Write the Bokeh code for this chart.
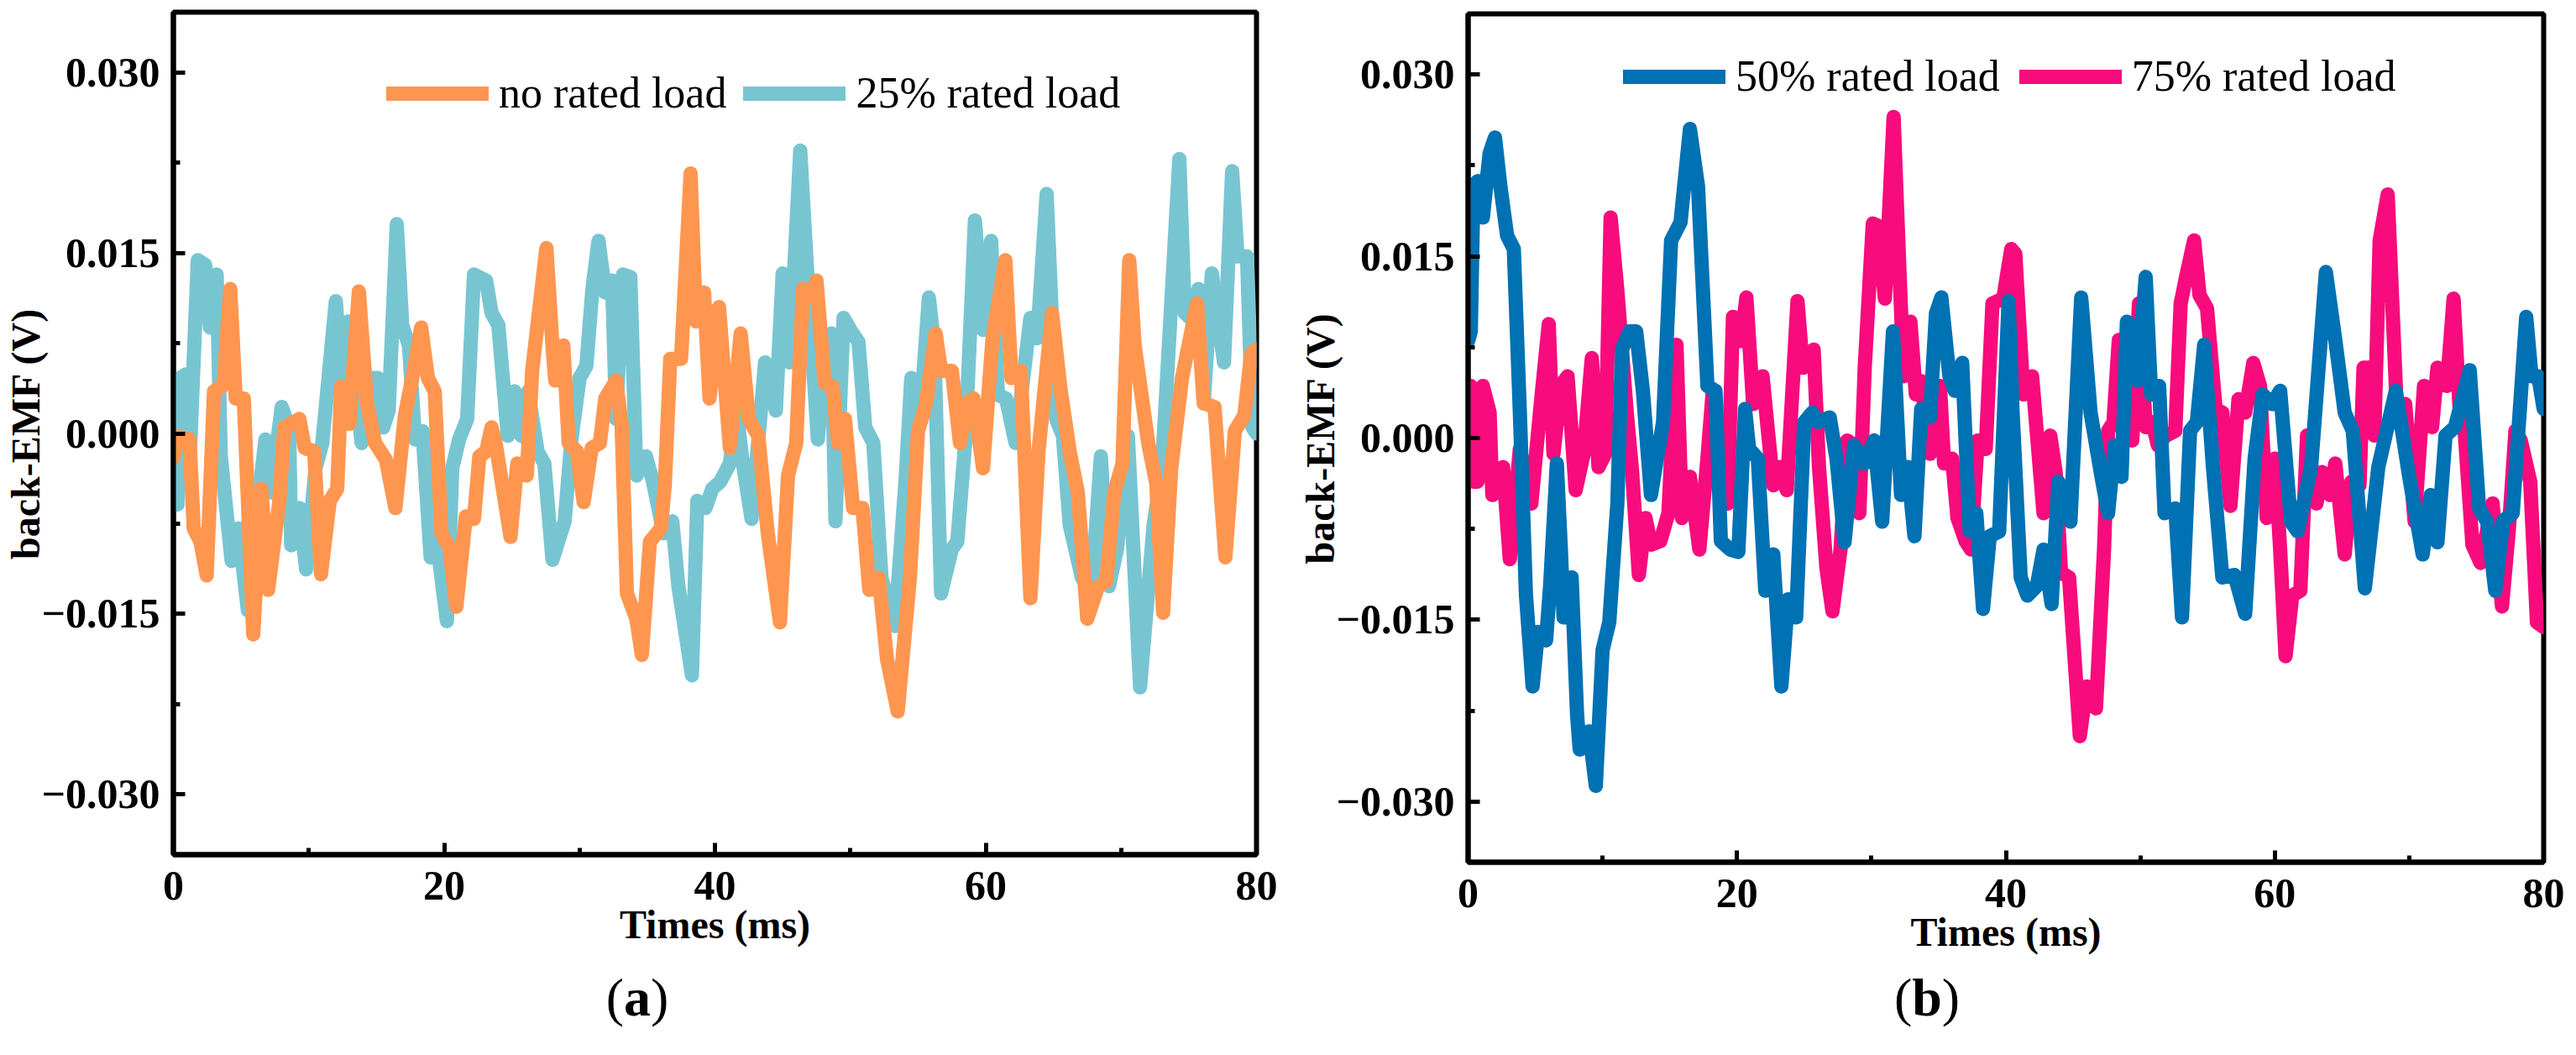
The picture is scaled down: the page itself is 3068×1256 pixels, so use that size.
# back-EMF under different loads, two panels side by side

from bokeh.plotting import figure
from bokeh.models import FixedTicker, Legend, LegendItem, Div
from bokeh.layouts import row, column
from bokeh.embed import file_html
from bokeh.resources import INLINE

# (a) no rated load
t_none = [0.0, 0.4, 1.2, 1.5, 2.0, 2.46, 3.0, 3.7, 4.2, 4.6,
          5.2, 5.9, 6.5, 7.0, 7.8, 8.2, 9.3, 9.7, 10.4, 10.9,
          11.55, 12.1, 12.4, 13.0, 13.7, 14.3, 14.9, 15.7, 16.4, 17.1,
          17.75, 18.3, 18.8, 19.3, 19.8, 20.4, 20.9, 21.6, 22.2, 22.6,
          23.1, 23.5, 23.8, 24.9, 25.4, 26.1, 26.5, 27.55, 28.0, 28.2,
          28.8, 29.2, 29.8, 30.3, 30.9, 31.5, 31.9, 32.7, 33.1, 33.5,
          34.2, 34.6, 35.2, 36.0, 36.3, 36.7, 37.5, 38.2, 38.6, 39.2,
          39.6, 40.3, 41.1, 41.9, 42.5, 43.2, 43.9, 44.8, 45.4, 46.0,
          46.5, 47.1, 47.5, 48.1, 48.7, 49.1, 49.6, 50.2, 50.9, 51.4,
          52.1, 52.7, 53.5, 54.4, 55.0, 55.6, 56.3, 56.7, 57.5, 58.1,
          58.6, 59.1, 59.8, 60.5, 61.45, 61.9, 62.6, 63.3, 63.9, 64.9,
          65.5, 66.2, 66.8, 67.5, 68.3, 68.9, 69.5, 70.1, 70.6, 71.0,
          72.0, 72.6, 73.1, 73.7, 74.5, 75.6, 76.1, 76.9, 77.7, 78.4,
          79.1, 79.6, 80.0]
v_none = [-0.0020, -0.0003, -0.0005, -0.0079, -0.0090, -0.0118, 0.0035, 0.0040, 0.0120, 0.0029,
          0.0029, -0.0167, -0.0046, -0.0130, -0.0059, 0.0005, 0.0012, -0.0012, -0.0015, -0.0117,
          -0.0056, -0.0046, 0.0039, 0.0008, 0.0118, 0.0025, -0.0008, -0.0022, -0.0062, 0.0015,
          0.0052, 0.0088, 0.0046, 0.0035, -0.0083, -0.0095, -0.0144, -0.0069, -0.0071, -0.0019,
          -0.0015, 0.0005, -0.0008, -0.0086, -0.0025, -0.0035, 0.0052, 0.0154, 0.0073, 0.0044,
          0.0073, -0.0008, -0.0015, -0.0057, -0.0012, -0.0008, 0.0029, 0.0044, 0.0008, -0.0133,
          -0.0154, -0.0184, -0.0090, -0.0079, -0.0042, 0.0062, 0.0062, 0.0216, 0.0093, 0.0117,
          0.0029, 0.0105, -0.0012, 0.0083, 0.0012, -0.0002, -0.0083, -0.0157, -0.0035, -0.0008,
          0.0120, 0.0113, 0.0127, 0.0042, 0.0039, -0.0008, 0.0012, -0.0062, -0.0062, -0.0130,
          -0.0120, -0.0187, -0.0231, -0.0120, 0.0002, 0.0025, 0.0083, 0.0052, 0.0052, -0.0008,
          0.0025, 0.0029, -0.0029, 0.0079, 0.0144, 0.0046, 0.0052, -0.0137, -0.0015, 0.0100,
          0.0039, -0.0015, -0.0049, -0.0154, -0.0127, -0.0123, -0.0049, -0.0025, 0.0144, 0.0073,
          -0.0008, -0.0042, -0.0149, -0.0029, 0.0046, 0.0108, 0.0025, 0.0022, -0.0103, 0.0002,
          0.0015, 0.0066, 0.0070]

# (a) 25% rated load
t_25 = [0.0, 0.3, 0.5, 0.9, 1.2, 1.8, 2.35, 2.7, 3.2, 3.5,
        4.3, 4.8, 5.5, 6.2, 6.8, 7.2, 8.0, 8.55, 8.7, 9.3,
        9.8, 10.5, 11.0, 12.0, 12.5, 12.9, 13.3, 13.9, 14.4, 15.1,
        15.5, 15.9, 16.5, 16.9, 17.4, 17.85, 18.4, 19.0, 19.5, 20.2,
        20.6, 21.1, 21.7, 22.2, 23.1, 23.5, 24.0, 24.7, 25.2, 25.7,
        26.2, 26.9, 27.4, 28.0, 28.9, 29.4, 30.0, 30.5, 30.95, 31.4,
        31.9, 32.4, 32.7, 33.2, 33.75, 34.2, 34.9, 35.4, 36.2, 36.85,
        37.3, 38.3, 38.7, 39.3, 39.8, 40.4, 41.1, 41.6, 42.0, 42.7,
        43.7, 44.5, 45.0, 45.5, 46.3, 46.9, 47.6, 48.2, 48.6, 48.9,
        49.5, 50.0, 50.6, 51.1, 51.7, 52.3, 53.3, 54.1, 54.5, 55.2,
        55.8, 56.2, 56.7, 57.5, 57.9, 58.5, 59.2, 59.8, 60.4, 60.9,
        61.5, 62.2, 63.3, 63.8, 64.5, 65.2, 65.7, 66.2, 67.1, 67.85,
        68.5, 69.1, 69.7, 70.5, 71.4, 72.4, 73.0, 74.3, 74.7, 75.1,
        75.7, 76.1, 76.7, 77.6, 78.2, 78.6, 79.3, 79.7, 80.0]
v_25 = [-0.0060, -0.0059, 0.0046, 0.0049, -0.0022, 0.0144, 0.0140, 0.0088, 0.0132, -0.0019,
        -0.0106, -0.0079, -0.0147, -0.0062, -0.0005, -0.0049, 0.0022, 0.0005, -0.0093, -0.0062,
        -0.0113, -0.0029, -0.0008, 0.0110, 0.0025, 0.0093, 0.0056, -0.0008, 0.0046, 0.0046,
        0.0005, 0.0019, 0.0174, 0.0090, 0.0073, -0.0005, 0.0002, -0.0103, -0.0093, -0.0156,
        -0.0029, -0.0005, 0.0012, 0.0132, 0.0127, 0.0100, 0.0090, -0.0002, 0.0035, -0.0002,
        0.0035, -0.0015, -0.0025, -0.0105, -0.0073, -0.0005, 0.0046, 0.0056, 0.0120, 0.0160,
        0.0117, 0.0127, 0.0012, 0.0132, 0.0130, -0.0035, -0.0019, -0.0039, -0.0083, -0.0073,
        -0.0127, -0.0201, -0.0056, -0.0062, -0.0046, -0.0040, -0.0025, 0.0019, -0.0020, -0.0071,
        0.0059, 0.0019, 0.0133, 0.0059, 0.0235, 0.0117, -0.0005, 0.0079, 0.0083, -0.0073,
        0.0096, 0.0086, 0.0076, 0.0005, -0.0008, -0.0120, -0.0160, -0.0035, 0.0046, 0.0019,
        0.0113, 0.0073, -0.0133, -0.0096, -0.0090, -0.0005, 0.0177, 0.0086, 0.0160, 0.0032,
        0.0029, -0.0008, 0.0096, 0.0079, 0.0199, 0.0012, -0.0002, -0.0076, -0.0120, -0.0127,
        -0.0019, -0.0127, -0.0096, -0.0002, -0.0211, -0.0076, -0.0032, 0.0228, 0.0100, 0.0096,
        0.0120, 0.0025, 0.0133, 0.0059, 0.0218, 0.0147, 0.0147, 0.0005, 0.0000]

# (b) 50% rated load
t_50 = [0.0, 0.2, 0.4, 0.7, 1.1, 1.6, 2.0, 2.4, 2.9, 3.4,
        3.85, 4.3, 4.8, 5.2, 5.8, 6.1, 6.6, 6.9, 7.1, 7.7,
        8.1, 8.3, 9.0, 9.5, 10.0, 10.5, 11.1, 11.45, 12.0, 12.5,
        13.0, 13.6, 14.5, 15.1, 15.8, 16.5, 17.1, 17.8, 18.4, 18.8,
        19.5, 20.1, 20.6, 20.9, 21.55, 22.1, 22.7, 23.3, 23.8, 24.4,
        25.0, 25.6, 26.0, 26.9, 27.4, 28.0, 28.7, 29.5, 30.2, 30.8,
        31.6, 32.2, 32.7, 33.2, 33.7, 34.35, 34.8, 35.2, 35.8, 36.2,
        36.75, 37.3, 37.8, 38.3, 38.8, 39.5, 40.2, 40.5, 41.1, 41.6,
        42.3, 42.8, 43.4, 43.9, 44.8, 45.6, 46.3, 47.05, 47.6, 48.1,
        48.6, 49.0, 49.45, 49.8, 50.4, 50.8, 51.4, 51.8, 52.6, 53.1,
        53.7, 54.2, 54.75, 55.4, 56.1, 57.0, 57.8, 58.5, 59.1, 59.8,
        60.4, 61.2, 61.7, 62.7, 63.8, 64.5, 65.2, 65.8, 66.7, 67.7,
        69.0, 70.0, 71.0, 71.6, 72.1, 72.7, 73.4, 74.5, 75.2, 75.8,
        76.4, 77.0, 77.7, 78.7, 79.1, 79.6, 80.0]
v_50 = [0.0080, 0.0088, 0.0208, 0.0212, 0.0182, 0.0235, 0.0248, 0.0208, 0.0167, 0.0156,
        0.0021, -0.0129, -0.0205, -0.0160, -0.0167, -0.0122, -0.0021, -0.0092, -0.0148, -0.0115,
        -0.0227, -0.0257, -0.0242, -0.0287, -0.0175, -0.0152, -0.0054, 0.0073, 0.0088, 0.0088,
        0.0039, -0.0047, 0.0013, 0.0163, 0.0178, 0.0255, 0.0208, 0.0043, 0.0039, -0.0085,
        -0.0092, -0.0094, 0.0024, -0.0009, -0.0017, -0.0126, -0.0096, -0.0205, -0.0133, -0.0148,
        0.0013, 0.0021, 0.0013, 0.0017, -0.0017, -0.0086, -0.0006, -0.0021, -0.0002, -0.0069,
        0.0088, -0.0047, -0.0024, -0.0081, 0.0024, 0.0017, 0.0103, 0.0116, 0.0051, 0.0039,
        0.0062, -0.0077, -0.0062, -0.0141, -0.0081, -0.0077, 0.0113, 0.0021, -0.0115, -0.0130,
        -0.0122, -0.0092, -0.0137, -0.0036, -0.0069, 0.0116, 0.0021, -0.0028, -0.0062, -0.0006,
        -0.0032, 0.0096, 0.0092, 0.0047, 0.0133, 0.0036, 0.0043, -0.0062, -0.0058, -0.0148,
        0.0006, 0.0013, 0.0077, -0.0024, -0.0115, -0.0113, -0.0145, -0.0017, 0.0036, 0.0028,
        0.0039, -0.0069, -0.0077, -0.0024, 0.0137, 0.0081, 0.0021, 0.0006, -0.0124, -0.0024,
        0.0039, -0.0032, -0.0096, -0.0047, -0.0086, 0.0002, 0.0009, 0.0056, -0.0058, -0.0069,
        -0.0126, -0.0068, -0.0062, 0.0100, 0.0051, 0.0051, 0.0024]

# (b) 75% rated load
t_75 = [0.0, 0.2, 0.4, 0.7, 1.1, 1.6, 1.8, 2.6, 3.1, 3.85,
        4.7, 5.5, 6.0, 6.35, 6.9, 7.4, 8.0, 8.6, 9.2, 9.7,
        10.2, 10.6, 11.1, 11.8, 12.2, 12.7, 13.2, 13.6, 14.3, 14.9,
        15.5, 15.9, 16.5, 17.2, 17.8, 18.2, 18.7, 19.3, 19.7, 20.3,
        20.7, 21.2, 21.9, 22.7, 23.2, 23.7, 24.5, 24.9, 25.7, 26.1,
        26.65, 27.1, 27.7, 28.2, 28.7, 29.1, 29.5, 30.1, 30.5, 31.0,
        31.65, 32.1, 32.4, 32.9, 33.3, 33.7, 34.35, 35.1, 35.4, 36.0,
        36.4, 37.0, 37.4, 37.9, 38.5, 39.0, 39.8, 40.4, 40.7, 41.3,
        41.95, 42.8, 43.3, 43.7, 44.1, 44.7, 45.5, 46.0, 46.7, 47.3,
        47.6, 48.0, 48.4, 48.8, 49.4, 49.9, 50.4, 50.9, 51.3, 51.9,
        52.6, 53.0, 53.4, 54.0, 54.4, 54.96, 55.6, 56.1, 56.7, 57.3,
        57.8, 58.4, 58.9, 59.4, 60.0, 60.4, 60.8, 61.3, 61.9, 62.4,
        63.1, 63.5, 64.1, 64.5, 65.2, 65.7, 66.3, 66.6, 67.0, 67.4,
        67.8, 68.4, 68.8, 69.1, 69.7, 70.4, 71.1, 71.7, 72.1, 72.8,
        73.3, 73.8, 74.1, 74.7, 75.3, 76.2, 76.9, 77.4, 77.9, 78.3,
        79.0, 79.5, 80.0]
v_75 = [0.0020, 0.0043, -0.0036, -0.0036, 0.0043, 0.0021, -0.0047, -0.0024, -0.0100, -0.0009,
        -0.0054, 0.0039, 0.0094, -0.0013, 0.0043, 0.0051, -0.0043, -0.0013, 0.0066, -0.0024,
        -0.0013, 0.0182, 0.0122, 0.0021, -0.0028, -0.0113, -0.0066, -0.0088, -0.0085, -0.0062,
        0.0077, -0.0066, -0.0032, -0.0092, -0.0017, 0.0039, -0.0028, -0.0054, 0.0100, 0.0080,
        0.0116, 0.0028, 0.0051, -0.0039, -0.0024, -0.0043, 0.0113, 0.0058, 0.0073, -0.0024,
        -0.0107, -0.0143, -0.0092, -0.0002, -0.0006, -0.0062, 0.0058, 0.0177, 0.0175, 0.0115,
        0.0265, 0.0133, 0.0051, 0.0096, 0.0036, 0.0047, -0.0013, 0.0043, -0.0021, -0.0017,
        -0.0066, -0.0085, -0.0092, -0.0002, -0.0009, 0.0111, 0.0115, 0.0156, 0.0152, 0.0036,
        0.0051, -0.0062, 0.0002, -0.0028, -0.0111, -0.0115, -0.0246, -0.0205, -0.0223, -0.0092,
        0.0006, 0.0013, 0.0081, 0.0077, -0.0002, 0.0111, 0.0009, 0.0013, -0.0006, 0.0002,
        0.0006, 0.0111, 0.0133, 0.0163, 0.0118, 0.0107, 0.0024, 0.0021, -0.0056, 0.0032,
        0.0021, 0.0062, 0.0043, -0.0066, -0.0017, -0.0092, -0.0180, -0.0130, -0.0126, 0.0002,
        -0.0054, -0.0028, -0.0047, -0.0021, -0.0096, -0.0036, -0.0039, 0.0058, 0.0058, 0.0002,
        0.0163, 0.0201, 0.0096, 0.0017, 0.0028, -0.0069, 0.0043, 0.0009, 0.0058, 0.0043,
        0.0115, 0.0013, 0.0009, -0.0088, -0.0103, -0.0054, -0.0139, -0.0077, 0.0006, -0.0002,
        -0.0036, -0.0152, -0.0156]

x_ticks = [0, 20, 40, 60, 80]
x_minor = [10, 30, 50, 70]
y_ticks = [-0.03, -0.015, 0, 0.015, 0.03]
y_minor = [-0.0225, -0.0075, 0.0075, 0.0225]
y_tick_text = {-0.03: "\u22120.030", -0.015: "\u22120.015", 0: "0.000",
               0.015: "0.015", 0.03: "0.030"}

FONT = "'Liberation Serif', 'Times New Roman', serif"


def panel(series, frame_w, frame_h, border_l, border_r, border_t, border_b,
          leg_xy, leg_spacing):
    p = figure(frame_width=frame_w, frame_height=frame_h,
               x_range=(0, 80), y_range=(-0.035, 0.035),
               output_backend="svg", toolbar_location=None,
               min_border_left=border_l, min_border_right=border_r,
               min_border_top=border_t, min_border_bottom=border_b)
    p.xgrid.visible = False
    p.ygrid.visible = False
    p.outline_line_color = "black"
    p.outline_line_width = 6

    p.xaxis.ticker = FixedTicker(ticks=x_ticks, minor_ticks=x_minor)
    p.yaxis.ticker = FixedTicker(ticks=y_ticks, minor_ticks=y_minor)
    p.yaxis.major_label_overrides = y_tick_text
    for ax in (p.xaxis[0], p.yaxis[0]):
        ax.axis_line_width = 6
        ax.axis_line_color = "black"
        ax.major_tick_in = 14
        ax.major_tick_out = 0
        ax.minor_tick_in = 8
        ax.minor_tick_out = 0
        ax.major_tick_line_width = 5
        ax.minor_tick_line_width = 5
        ax.major_label_text_font = FONT
        ax.major_label_text_font_style = "bold"
        ax.major_label_text_font_size = "50px"
        ax.major_label_text_color = "black"
        ax.axis_label_text_font = FONT
        ax.axis_label_text_font_style = "bold"
        ax.axis_label_text_font_size = "48px"
        ax.axis_label_text_color = "black"
    p.xaxis.axis_label = "Times (ms)"
    p.yaxis.axis_label = "back-EMF (V)"
    p.xaxis.major_label_standoff = 20
    p.xaxis.axis_label_standoff = 0
    p.yaxis.major_label_standoff = 16
    p.yaxis.axis_label_standoff = -10

    # first series drawn last so it sits on top
    rends = {}
    for label, t, v, color in reversed(series):
        rends[label] = p.line(t, v, line_width=17, color=color,
                              line_join="round", line_cap="round")
    items = [LegendItem(label=label, renderers=[rends[label]])
             for label, _, _, _ in series]
    leg = Legend(items=items, orientation="horizontal", location=leg_xy,
                 border_line_alpha=0, background_fill_alpha=0,
                 padding=0, margin=0, spacing=leg_spacing,
                 glyph_width=122, glyph_height=40, label_standoff=12,
                 label_height=40, label_text_font=FONT,
                 label_text_font_size="52px", label_text_color="black")
    p.add_layout(leg)
    return p


def tag(letter, width, shift):
    # "(a)" under a panel: plain brackets, bold letter
    return Div(text="(<b>%s</b>)" % letter, width=width, height=90, margin=0,
               styles={"font-family": FONT, "font-size": "64px",
                       "line-height": "64px", "color": "black",
                       "text-align": "center", "padding-top": "4px",
                       "padding-right": "%dpx" % shift})


left = panel([("no rated load", t_none, v_none, "#FF9650"),
              ("25% rated load", t_25, v_25, "#78C5D2")],
             1290, 1003, 199, 45, 14, 135, (254, 877), 20)
right = panel([("50% rated load", t_50, v_50, "#0071B3"),
               ("75% rated load", t_75, v_75, "#F70B7D")],
              1281, 1010, 207, 30, 16, 126, (185, 906), 23)

layout = row(column(left, tag("a", 1534, 16)),
             column(right, tag("b", 1518, 10)))

open("out.html", "w").write(file_html(layout, INLINE))
